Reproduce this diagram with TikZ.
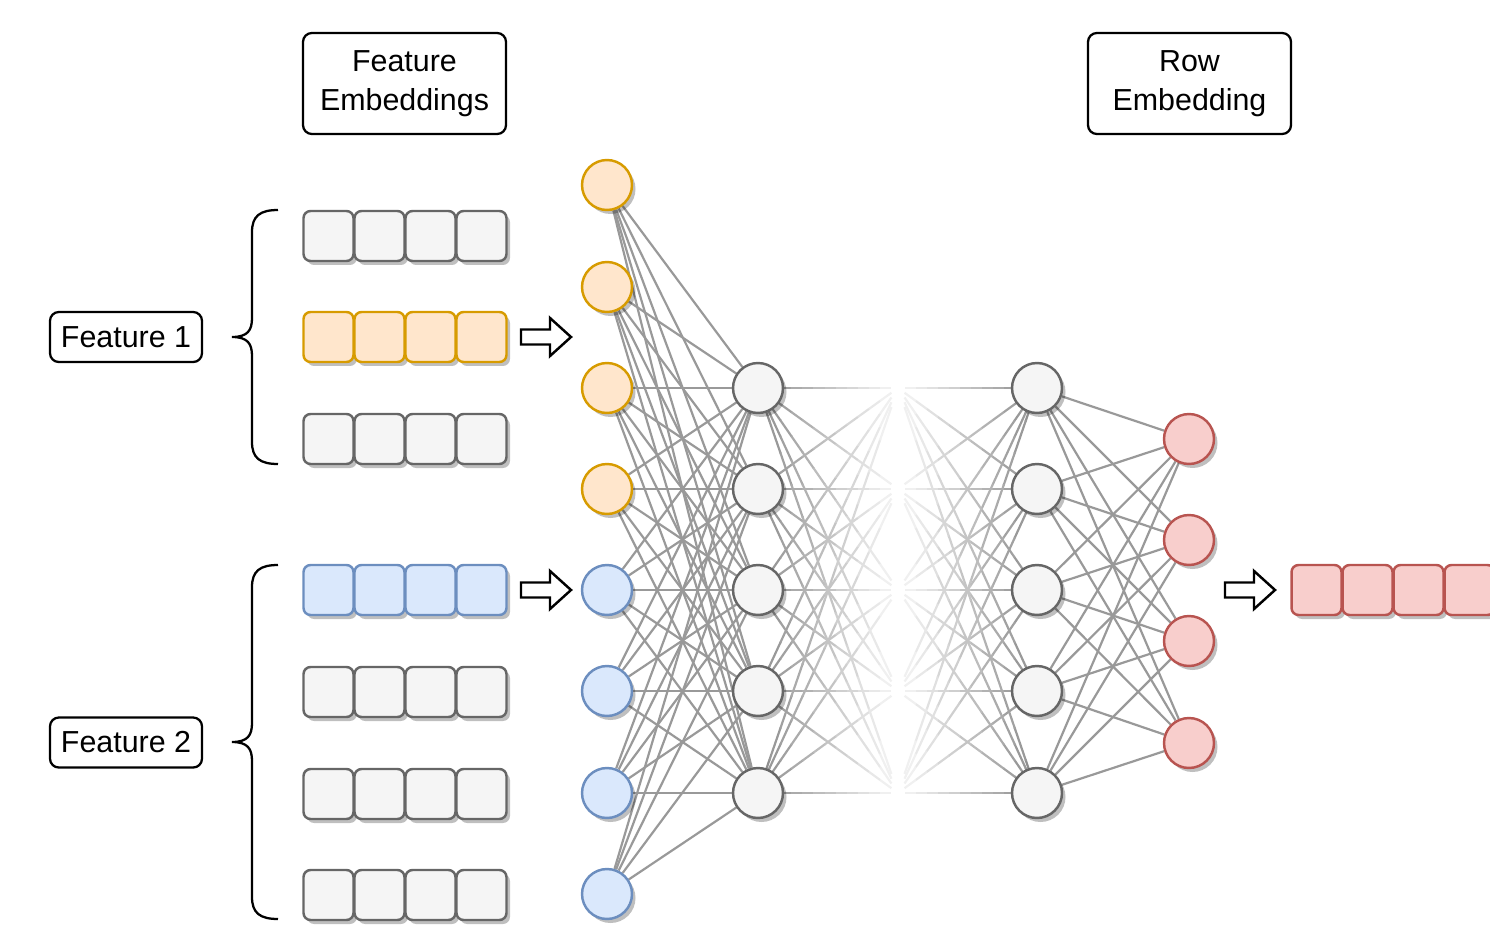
\documentclass[tikz,border=0pt]{standalone}
\usepackage{fontspec}
\setmainfont{Liberation Sans}
\usetikzlibrary{shadows,backgrounds,calc}
\definecolor{orF}{HTML}{FFE6CC}\definecolor{orS}{HTML}{D79B00}
\definecolor{blF}{HTML}{DAE8FC}\definecolor{blS}{HTML}{6C8EBF}
\definecolor{grF}{HTML}{F5F5F5}\definecolor{grS}{HTML}{666666}
\definecolor{rdF}{HTML}{F8CECC}\definecolor{rdS}{HTML}{B85450}
\definecolor{edgeC}{HTML}{999999}
\tikzset{
 shad/.style={drop shadow={shadow xshift=0.07cm, shadow yshift=-0.08cm, fill=black, opacity=0.25}},
 cell/.style={draw, rounded corners=4pt, minimum width=1cm, minimum height=1cm, inner sep=0pt, line width=1.4pt, shad},
 gcell/.style={cell, fill=grF, draw=grS},
 ocell/.style={cell, fill=orF, draw=orS},
 bcell/.style={cell, fill=blF, draw=blS},
 rcell/.style={cell, fill=rdF, draw=rdS},
 neuron/.style={circle, minimum size=1cm, inner sep=0pt, line width=1.4pt, shad},
 oneu/.style={neuron, fill=orF, draw=orS},
 bneu/.style={neuron, fill=blF, draw=blS},
 gneu/.style={neuron, fill=grF, draw=grS},
 rneu/.style={neuron, fill=rdF, draw=rdS},
 labelbox/.style={draw=black, rounded corners=5pt, line width=1.3pt, align=center, inner sep=0pt, font=\fontsize{17.3}{22}\selectfont},
 edge/.style={draw=edgeC, line width=1.25pt},
 harrow/.style={draw=black, fill=white, line width=1.4pt, line join=miter},
 bracestyle/.style={draw=black, line width=1.3pt},
}
\newcommand\mybrace[3]{%
 \draw[bracestyle] (278,#1) .. controls (260,#1) and (252,{#1+6}) .. (252,{#1+22}) -- (252,{#2-19}) .. controls (252,{#2-7}) and (248,#2) .. (232,#2)
   .. controls (248,#2) and (252,{#2+7}) .. (252,{#2+19}) -- (252,{#3-22}) .. controls (252,{#3-6}) and (260,#3) .. (278,#3);}
\newcommand\hollowarrow[2]{%
 \draw[harrow, shift={(#1,#2)}] (-25,-7.5) -- (4,-7.5) -- (4,-19) -- (25,0) -- (4,19) -- (4,7.5) -- (-25,7.5) -- cycle;}
\begin{document}
\begin{tikzpicture}[x=0.02cm, y=-0.02cm]
\useasboundingbox (0,0) rectangle (1490,933);
% title boxes
\node[labelbox, minimum width=4.06cm, minimum height=2.02cm] (fe) at (404.5,83.5) {Feature\\Embeddings};
\node[labelbox, minimum width=4.06cm, minimum height=2.02cm] (re) at (1189.5,83.5) {Row\\Embedding};
\node[labelbox, minimum width=3.04cm, minimum height=1cm] (f1) at (126,337) {Feature 1};
\node[labelbox, minimum width=3.04cm, minimum height=1cm] (f2) at (126,742.5) {Feature 2};
% braces
\mybrace{210}{337}{464}
\mybrace{565}{742}{919}
% embedding cells
\foreach \r/\y/\s in {1/236/gcell,2/337/ocell,3/439/gcell,4/590/bcell,5/692/gcell,6/794/gcell,7/895/gcell}{
  \foreach \k in {1,...,4}{
    \node[\s] (c\r\k) at ({277.5+51*\k},\y) {};
  }}
% arrows
\hollowarrow{546}{337}
\hollowarrow{546}{590}
\hollowarrow{1250}{590}
% input neurons
\foreach \n/\y/\s in {1/185/oneu,2/287/oneu,3/388/oneu,4/489/oneu,5/590/bneu,6/691/bneu,7/793/bneu,8/894/bneu}{
  \node[\s] (i\n) at (607,\y) {};
}
% hidden layers
\foreach \n/\y in {1/388,2/489,3/590,4/691,5/793}{
  \node[gneu] (h\n) at (758,\y) {};
  \node[gneu] (g\n) at (1037,\y) {};
  \coordinate (m\n) at (898,\y);
}
% output neurons
\foreach \n/\y in {1/439,2/540,3/641,4/743}{
  \node[rneu] (o\n) at (1189,\y) {};
}
% output embedding
\foreach \k in {1,...,4}{
  \node[rcell] (e\k) at ({1265.5+51*\k},590) {};
}
% connections
\begin{scope}[on background layer]
\foreach \a in {1,...,8}{\foreach \b in {1,...,5}{\draw[edge] (i\a) -- (h\b);}}
\foreach \a in {1,...,5}{\foreach \b in {1,...,4}{\draw[edge] (g\a) -- (o\b);}}
\foreach \a in {1,...,5}{\foreach \b in {1,...,5}{\foreach \k in {0,...,11}{
  \pgfmathsetmacro\ta{\k*0.95/12}
  \pgfmathsetmacro\tb{(\k+1)*0.95/12+0.003}
  \pgfmathsetmacro\sh{int(44-38*\k/11)}
  \draw[line width=1.25pt, draw=black!\sh] ($(h\a)!\ta!(m\b)$) -- ($(h\a)!\tb!(m\b)$);
  \draw[line width=1.25pt, draw=black!\sh] ($(g\a)!\ta!(m\b)$) -- ($(g\a)!\tb!(m\b)$);
}}}
\end{scope}
\end{tikzpicture}
\end{document}
